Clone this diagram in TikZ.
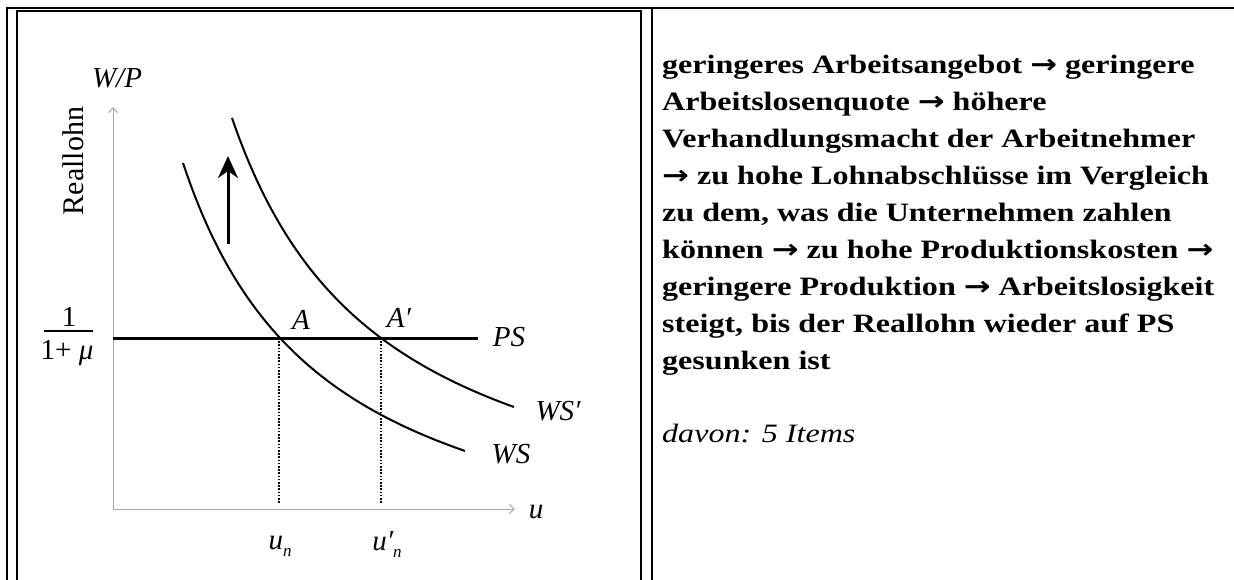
\documentclass[tikz,border=0pt]{standalone}
\usepackage{graphicx}
\usepackage{fontspec}
\setmainfont{Liberation Serif}
\newfontfamily\arrfont{DejaVu Sans}
\usetikzlibrary{arrows.meta}
\newcommand{\ra}{{\arrfont\bfseries →}}
\begin{document}
\begin{tikzpicture}[x=1pt,y=-1pt,
  frame/.style={line width=2pt},
  axisline/.style={draw=gray!70, line width=1pt, -{Straight Barb[length=5pt,width=9pt]}},
  curve/.style={line width=2pt},
  dotline/.style={line width=1.6pt, dash pattern=on 1.6pt off 1.6pt},
  lbl/.style={font=\fontsize{29}{29}\selectfont\itshape, inner sep=0},
  uplbl/.style={font=\fontsize{29}{29}\selectfont, inner sep=0}]
\useasboundingbox (0,0) rectangle (1234,580);
% table lines
\coordinate (t0) at (6,7.7);
\coordinate (t1) at (1234,7.7);
\draw[frame] (t0) -- (t1);
\draw[frame] (7,6.7) -- (7,580);
\draw[frame] (651.7,6.7) -- (651.7,580);
% image frame
\draw[frame] (17,580) -- (17,11) -- (640.5,11) -- (640.5,580);
% axes
\coordinate (O) at (113,509);
\coordinate (ytop) at (113,107);
\coordinate (xend) at (515,509);
\draw[axisline] (O) -- (ytop);
\draw[axisline] (O) -- (xend);
% PS line
\coordinate (ps0) at (113,338);
\coordinate (ps1) at (478,338);
\draw[line width=3pt] (ps0) -- (ps1);
% intersections
\coordinate (A) at (279,338);
\coordinate (Ap) at (381,338);
\coordinate (An) at (279,503);
\coordinate (Apn) at (381,503);
\draw[dotline] (A) -- (An);
\draw[dotline] (Ap) -- (Apn);
% curves
\draw[curve] plot[domain=183:465,samples=80] (\x,{598.3-628.2/((\x-38.7)/100)});
\draw[curve] plot[domain=232:514,samples=80] (\x,{563.6-680.89/((\x-79.2)/100)});
% shift arrow
\coordinate (sa0) at (228,244);
\coordinate (sa1) at (228,156);
\draw[line width=3pt, -{Stealth[length=22pt,width=20pt,inset=7pt]}] (sa0) -- (sa1);
% labels
\node[lbl] (wp) at (117,78) {W/P};
\node[uplbl, font=\fontsize{30}{30}\selectfont, rotate=90] (rl) at (73,161) {Reallohn};
\node[uplbl] (num) at (69,317) {1};
\node[uplbl] (den) at (67,353) {1+ \textit{μ}};
\coordinate (fb0) at (44,331);
\coordinate (fb1) at (93,331);
\draw[line width=1.4pt] (fb0) -- (fb1);
\node[lbl] (la) at (301,320) {A};
\node[lbl] (lap) at (399,318) {A′};
\node[lbl] (lps) at (509,337) {PS};
\node[lbl] (lwsp) at (558,411) {WS′};
\node[lbl] (lws) at (511,454) {WS};
\node[lbl] (lu) at (536,512) {u};
\node[lbl] (lun) at (280,546) {u\raisebox{-7pt}{\fontsize{17}{17}\selectfont n}};
\node[lbl] (lunp) at (387,545) {u′\raisebox{-7pt}{\fontsize{17}{17}\selectfont n}};
% right text
\node[anchor=base west, inner sep=0] (txt) at (662,74) {\scalebox{1.21}[1]{\parbox[t]{470pt}{\fontsize{26.5}{36.9}\selectfont\bfseries\raggedright
geringeres Arbeitsangebot \ra{} geringere\\
Arbeitslosenquote \ra{} höhere\\
Verhandlungsmacht der Arbeitnehmer\\
\ra{} zu hohe Lohnabschlüsse im Vergleich\\
zu dem, was die Unternehmen zahlen\\
können \ra{} zu hohe Produktionskosten \ra{}\\
geringere Produktion \ra{} Arbeitslosigkeit\\
steigt, bis der Reallohn wieder auf PS\\
gesunken ist\\
\mbox{}\\
{\mdseries\itshape davon: 5 Items}}}};
\end{tikzpicture}
\end{document}
